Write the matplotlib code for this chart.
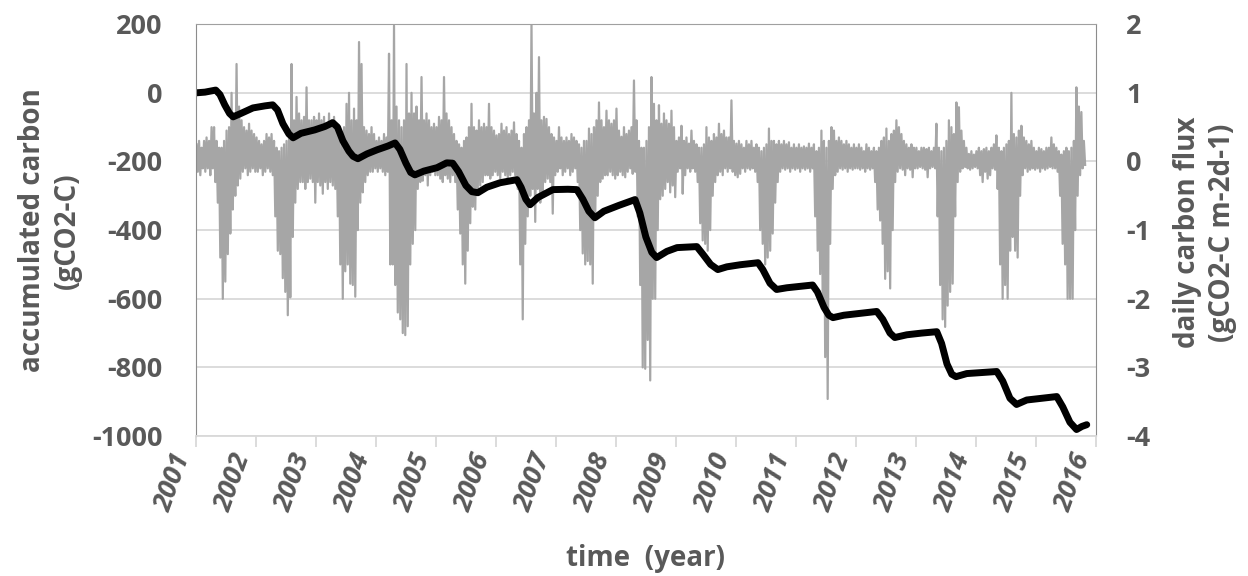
import matplotlib.pyplot as plt
import numpy as np

# daily flux summarised per half-month: highest and lowest daily value (gCO2-C m-2 d-1)
years = list(range(2001, 2016))
flux_max = [
    [0.25, 0.3, 0.2, 0.3, 0.35, 0.3, 0.5, 0.5, 0.3, 0.2, 0.2, 0.3, 0.45, 0.5, 1.0, 0.6, 1.42, 0.8, 0.6, 0.5, 0.45, 0.55, 0.45, 0.4],
    [0.35, 0.3, 0.25, 0.3, 0.4, 0.35, 0.4, 0.3, 0.2, 0.15, 0.2, 0.25, 0.3, 0.4, 1.42, 0.6, 0.94, 0.7, 0.6, 0.65, 1.08, 0.6, 0.6, 0.65],
    [0.6, 0.7, 0.6, 0.65, 0.5, 0.7, 0.6, 0.65, 0.5, 0.4, 0.3, 0.5, 0.84, 1.0, 0.6, 0.77, 0.6, 1.74, 1.42, 0.5, 0.45, 0.4, 0.5, 0.4],
    [0.3, 0.35, 0.3, 0.4, 0.35, 1.57, 0.6, 1.98, 0.8, 0.6, 0.5, 0.6, 1.42, 0.7, 1.0, 0.7, 0.8, 0.6, 1.23, 0.6, 0.7, 0.6, 0.5, 0.55],
    [0.5, 0.65, 0.6, 1.23, 0.7, 0.6, 0.5, 0.4, 0.3, 0.25, 0.2, 0.3, 0.35, 0.5, 0.84, 0.5, 0.45, 0.6, 0.5, 0.55, 0.5, 0.84, 0.5, 0.45],
    [0.38, 0.4, 0.55, 0.45, 0.5, 0.4, 0.45, 0.57, 0.4, 0.3, 0.2, 0.4, 0.5, 0.6, 2.0, 0.7, 1.0, 1.52, 0.6, 0.65, 0.62, 0.5, 0.4, 0.35],
    [0.3, 0.5, 0.35, 0.3, 0.35, 0.3, 0.4, 0.35, 0.3, 0.25, 0.2, 0.3, 0.3, 0.48, 0.4, 0.5, 0.6, 0.86, 0.6, 0.5, 0.74, 0.6, 0.55, 0.6],
    [0.77, 0.45, 0.36, 0.5, 0.4, 0.45, 0.5, 1.18, 0.6, 0.3, 0.2, 0.2, 0.3, 0.5, 1.23, 0.84, 0.6, 0.82, 0.55, 0.7, 0.6, 0.55, 0.74, 0.5],
    [0.3, 0.35, 0.52, 0.3, 0.35, 0.26, 0.45, 0.3, 0.25, 0.2, 0.2, 0.25, 0.5, 0.35, 0.3, 0.4, 0.35, 0.55, 0.4, 0.45, 0.35, 0.35, 0.89, 0.3],
    [0.26, 0.3, 0.25, 0.2, 0.3, 0.25, 0.3, 0.2, 0.25, 0.2, 0.15, 0.2, 0.25, 0.48, 0.3, 0.3, 0.25, 0.3, 0.25, 0.3, 0.25, 0.28, 0.2, 0.25],
    [0.2, 0.25, 0.2, 0.22, 0.2, 0.26, 0.2, 0.25, 0.15, 0.2, 0.45, 0.3, 0.2, 0.3, 0.5, 0.45, 0.3, 0.35, 0.3, 0.25, 0.3, 0.25, 0.2, 0.25],
    [0.2, 0.25, 0.2, 0.15, 0.25, 0.2, 0.15, 0.2, 0.15, 0.2, 0.3, 0.35, 0.48, 0.3, 0.4, 0.45, 0.6, 0.5, 0.4, 0.3, 0.25, 0.2, 0.25, 0.2],
    [0.2, 0.15, 0.2, 0.2, 0.18, 0.2, 0.15, 0.2, 0.55, 0.2, 0.15, 0.2, 0.3, 0.6, 0.5, 0.4, 0.86, 0.79, 0.45, 0.3, 0.2, 0.11, 0.15, 0.1],
    [0.15, 0.2, 0.15, 0.18, 0.2, 0.15, 0.2, 0.25, 0.38, 0.2, 0.15, 0.2, 0.25, 0.3, 1.0, 0.4, 0.35, 0.45, 0.52, 0.35, 0.3, 0.25, 0.3, 0.2],
    [0.15, 0.2, 0.18, 0.15, 0.2, 0.2, 0.35, 0.25, 0.2, 0.15, 0.1, 0.15, 0.2, 0.15, 0.2, 0.3, 1.08, 0.8, 0.72, 0.3],
]
flux_min = [
    [-0.15, -0.2, -0.1, -0.15, -0.1, -0.2, -0.1, -0.3, -0.6, -1.4, -2.0, -1.75, -1.35, -1.05, -0.7, -0.5, -0.35, -0.25, -0.15, -0.1, -0.2, -0.15, -0.1, -0.15],
    [-0.15, -0.1, -0.2, -0.15, -0.1, -0.15, -0.2, -0.8, -1.3, -1.35, -1.7, -1.9, -2.24, -1.98, -1.1, -0.6, -0.4, -0.3, -0.3, -0.4, -0.3, -0.25, -0.3, -0.6],
    [-0.3, -0.35, -0.47, -0.3, -0.4, -0.3, -0.35, -0.4, -0.8, -1.5, -2.0, -1.6, -1.5, -1.78, -1.8, -1.97, -1.0, -0.6, -0.45, -0.3, -0.2, -0.15, -0.15, -0.1],
    [-0.15, -0.1, -0.15, -0.2, -0.15, -1.5, -1.5, -1.8, -2.2, -2.3, -2.5, -2.53, -2.4, -1.5, -1.2, -1.0, -0.4, -0.3, -0.28, -0.2, -0.35, -0.2, -0.15, -0.2],
    [-0.2, -0.25, -0.3, -0.2, -0.25, -0.3, -0.2, -0.3, -0.7, -1.05, -1.5, -1.78, -1.3, -0.9, -0.66, -0.7, -0.4, -0.35, -0.3, -0.2, -0.2, -0.25, -0.2, -0.15],
    [-0.2, -0.25, -0.15, -0.2, -0.25, -0.2, -0.15, -0.2, -0.4, -1.5, -2.3, -1.2, -0.8, -0.5, -0.4, -0.88, -0.4, -0.6, -0.5, -0.3, -0.25, -0.3, -0.76, -0.2],
    [-0.15, -0.1, -0.2, -0.15, -0.1, -0.2, -0.15, -0.1, -0.3, -1.0, -1.34, -1.5, -1.45, -1.5, -1.78, -0.8, -0.5, -0.3, -0.25, -0.2, -0.2, -0.15, -0.2, -0.25],
    [-0.2, -0.15, -0.2, -0.23, -0.15, -0.1, -0.18, -0.15, -0.8, -1.8, -3.0, -3.02, -2.6, -3.19, -2.0, -2.0, -1.0, -0.55, -0.5, -0.4, -0.3, -0.45, -0.35, -0.52],
    [-0.15, -0.1, -0.47, -0.2, -0.1, -0.15, -0.1, -0.15, -0.3, -0.9, -1.15, -1.2, -1.3, -1.0, -0.5, -0.3, -0.2, -0.15, -0.2, -0.1, -0.15, -0.1, -0.15, -0.2],
    [-0.23, -0.18, -0.1, -0.15, -0.1, -0.12, -0.1, -0.15, -0.3, -1.0, -1.2, -1.5, -1.4, -1.3, -1.05, -0.6, -0.3, -0.15, -0.1, -0.12, -0.1, -0.15, -0.1, -0.12],
    [-0.1, -0.15, -0.1, -0.12, -0.1, -0.15, -0.1, -0.8, -1.3, -1.64, -2.0, -2.85, -3.46, -1.2, -0.4, -0.2, -0.15, -0.1, -0.12, -0.1, -0.15, -0.1, -0.12, -0.1],
    [-0.1, -0.12, -0.1, -0.15, -0.1, -0.12, -0.1, -0.3, -0.7, -0.86, -1.2, -1.71, -1.6, -1.85, -1.0, -0.3, -0.15, -0.1, -0.12, -0.2, -0.1, -0.12, -0.23, -0.1],
    [-0.1, -0.08, -0.1, -0.12, -0.23, -0.1, -0.08, -0.1, -0.8, -1.8, -2.3, -2.41, -2.1, -1.9, -1.78, -0.8, -0.3, -0.15, -0.1, -0.08, -0.1, -0.12, -0.1, -0.08],
    [-0.1, -0.2, -0.3, -0.15, -0.25, -0.2, -0.1, -0.12, -0.4, -1.5, -2.0, -1.8, -2.0, -1.3, -1.1, -1.3, -1.4, -0.5, -0.2, -0.1, -0.15, -0.12, -0.1, -0.12],
    [-0.1, -0.15, -0.1, -0.12, -0.1, -0.08, -0.1, -0.1, -0.15, -0.5, -1.2, -1.5, -2.0, -2.0, -2.0, -1.0, -0.5, -0.2, -0.1, -0.05],
]

# accumulated carbon (gCO2-C)
carbon_year = [
    2001.00, 2001.15, 2001.33, 2001.40, 2001.48, 2001.56, 2001.62, 2001.75, 2001.95,
    2002.15, 2002.28, 2002.36, 2002.45, 2002.55, 2002.62, 2002.75, 2002.98,
    2003.15, 2003.28, 2003.36, 2003.45, 2003.55, 2003.62, 2003.70, 2003.85,
    2004.02, 2004.20, 2004.32, 2004.40, 2004.50, 2004.58, 2004.65, 2004.80,
    2005.02, 2005.18, 2005.28, 2005.38, 2005.50, 2005.60, 2005.70, 2005.85,
    2006.07, 2006.35, 2006.42, 2006.50, 2006.57, 2006.70, 2006.95,
    2007.20, 2007.35, 2007.45, 2007.55, 2007.65, 2007.80,
    2008.05, 2008.32, 2008.40, 2008.50, 2008.60, 2008.68, 2008.85,
    2009.02, 2009.35, 2009.45, 2009.58, 2009.70, 2009.85,
    2010.07, 2010.37, 2010.45, 2010.57, 2010.68, 2010.85,
    2011.28, 2011.36, 2011.47, 2011.55, 2011.62, 2011.80,
    2012.10, 2012.35, 2012.45, 2012.57, 2012.65, 2012.85,
    2013.10, 2013.35, 2013.43, 2013.52, 2013.60, 2013.67, 2013.85,
    2014.35, 2014.45, 2014.57, 2014.68, 2014.85,
    2015.10, 2015.35, 2015.45, 2015.57, 2015.68, 2015.77, 2015.85,
]
carbon_value = [
    0, 2, 8, -5, -35, -60, -70, -60, -44,
    -38, -35, -50, -90, -120, -131, -118, -108,
    -98, -87, -100, -140, -170, -185, -192, -178,
    -166, -155, -146, -165, -205, -232, -239, -228,
    -218, -204, -205, -230, -270, -288, -291, -275,
    -262, -253, -275, -310, -326, -305, -282,
    -281, -282, -310, -345, -364, -345,
    -328, -311, -350, -420, -465, -480, -462,
    -451, -448, -470, -500, -515, -507,
    -501, -495, -515, -555, -573, -568,
    -560, -580, -625, -648, -655, -648,
    -642, -637, -660, -700, -713, -705,
    -700, -696, -730, -790, -820, -827, -818,
    -812, -840, -890, -908, -895,
    -890, -885, -915, -960, -981, -972, -967,
]

# zig-zag between the half-month max and min so the flux reads like a dense daily trace
t, v = [], []
for year, hi_row, lo_row in zip(years, flux_max, flux_min):
    for b, (hi, lo) in enumerate(zip(hi_row, lo_row)):
        t0 = year + b / 24
        t += [t0 + 1 / 96, t0 + 3 / 96]
        v += [hi, lo]

plt.rcParams['font.family'] = ['Open Sans', 'DejaVu Sans']
plt.rcParams['axes.unicode_minus'] = False
text_color = '#595959'

fig = plt.figure(figsize=(12.48, 5.76), dpi=100)
ax = fig.add_axes([0.157, 0.243, 0.721, 0.715])
axf = ax.twinx()
ax.set_zorder(2)
ax.patch.set_visible(False)

axf.plot(t, v, color='#a6a6a6', lw=1.6)
axf.set_ylim(-4, 2)
axf.set_yticks(range(-4, 3))
axf.grid(axis='y', color='#d9d9d9', lw=1.3)

ax.plot(carbon_year, carbon_value, color='black', lw=5,
        solid_joinstyle='round', solid_capstyle='round')
ax.set_ylim(-1000, 200)
ax.set_yticks(range(-1000, 201, 200))
ax.set_xlim(2001, 2016)
ax.set_xticks(range(2001, 2017))

ax.spines['right'].set_visible(False)
ax.spines['left'].set_color('#8c8c8c')
ax.spines['top'].set_color('#a0a0a0')
ax.spines['bottom'].set_color('#d9d9d9')
ax.spines['bottom'].set_linewidth(1.3)
for s in ['left', 'top', 'bottom']:
    axf.spines[s].set_visible(False)
axf.spines['right'].set_color('#8c8c8c')

ax.tick_params(axis='y', length=0, pad=24, labelsize=19.5, labelcolor=text_color)
axf.tick_params(axis='y', length=0, pad=22, labelsize=19.5, labelcolor=text_color)
ax.tick_params(axis='x', length=8, width=1.3, color='#d9d9d9', pad=2,
               labelsize=19.5, labelcolor=text_color)
for lab in ax.get_yticklabels() + axf.get_yticklabels():
    lab.set_fontweight('bold')
for lab in ax.get_xticklabels():
    lab.set_fontweight('bold')
    lab.set_fontstyle('italic')
    lab.set_rotation(70)
    lab.set_ha('right')
    lab.set_va('top')

fig.text(0.040, 0.6, 'accumulated carbon\n(gCO2-C)', rotation=90, ha='center', va='center',
         fontsize=20, fontweight='bold', color=text_color, linespacing=1.25)
fig.text(0.9655, 0.596, 'daily carbon flux\n(gCO2-C m-2d-1)', rotation=90, ha='center', va='center',
         fontsize=20, fontweight='bold', color=text_color, linespacing=1.25)
fig.text(0.5176, 0.031, 'time  (year)', ha='center', va='center',
         fontsize=20, fontweight='bold', color=text_color)

fig.savefig('out.png', dpi=100)
